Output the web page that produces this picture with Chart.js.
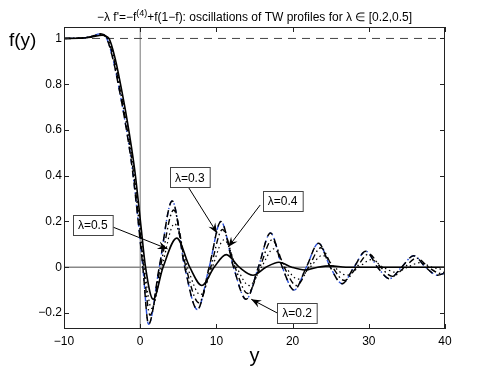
<!DOCTYPE html>
<html>
<head>
<meta charset="utf-8">
<script src="https://cdn.jsdelivr.net/npm/chart.js@4"></script>
<style>
  html, body { margin: 0; padding: 0; background: #fff; }
  #wrap { width: 493px; height: 370px; }
</style>
</head>
<body>
<div id="wrap"><canvas id="grafico" width="493" height="370"></canvas></div>
<script>
// profili (estremi e passaggi per zero)
const x02 = [-10, -8, -6.5, -5.3, -4.4, -3.5, -3, -2, -1, -0.2, 0.35, 1.1, 2.5, 4.2, 5.85, 7.5, 9.05, 10.6, 12.25, 13.9, 15.5, 17.1, 18.65, 20.2, 21.8, 23.4, 24.95, 26.5, 28.05, 29.6, 31.15, 32.7, 34.3, 35.9, 37.45, 39.0, 40];
const y02 = [1.0, 1.001, 1.008, 1.02, 1.0, 0.9, 0.82, 0.64, 0.42, 0.18, 0, -0.25, 0, 0.29, 0, -0.185, 0, 0.2, 0, -0.14, 0, 0.15, 0, -0.10, 0, 0.105, 0, -0.072, 0, 0.07, 0, -0.05, 0, 0.05, 0, -0.035, -0.025];

const x03 = [-10, -8, -6.5, -5.2, -4.3, -3.4, -2.9, -1.9, -0.9, -0.1, 0.45, 1.3, 2.65, 4.4, 6.0, 7.7, 9.25, 10.8, 12.45, 14.1, 15.7, 17.3, 18.9, 20.5, 22.1, 23.7, 25.25, 26.8, 28.4, 30.0, 31.55, 33.1, 34.7, 36.3, 37.85, 39.4, 40];
const y03 = [1.0, 1.001, 1.007, 1.018, 1.0, 0.9, 0.82, 0.64, 0.42, 0.18, 0, -0.21, 0, 0.25, 0, -0.155, 0, 0.165, 0, -0.115, 0, 0.12, 0, -0.08, 0, 0.085, 0, -0.058, 0, 0.058, 0, -0.04, 0, 0.04, 0, -0.027, -0.02];

const x04 = [-10, -8, -6.5, -5.1, -4.2, -3.3, -2.8, -1.8, -0.8, 0, 0.55, 1.5, 2.85, 4.5, 6.2, 7.9, 9.45, 11.0, 12.65, 14.3, 15.9, 17.5, 19.1, 20.7, 22.3, 23.9, 25.5, 27.1, 28.7, 30.3, 31.9, 33.5, 35.1, 36.7, 38.3, 40];
const y04 = [1.0, 1.001, 1.006, 1.016, 1.0, 0.9, 0.82, 0.64, 0.42, 0.18, 0, -0.18, 0, 0.19, 0, -0.12, 0, 0.12, 0, -0.08, 0, 0.08, 0, -0.052, 0, 0.052, 0, -0.035, 0, 0.033, 0, -0.022, 0, 0.02, 0, -0.012];

const x05 = [-10, -8, -6.5, -5.0, -4.1, -3.2, -2.7, -1.7, -0.7, 0.1, 0.7, 1.7, 3.0, 4.8, 6.5, 8.1, 9.7, 11.3, 13.0, 14.8, 16.5, 18.2, 19.9, 21.6, 23.3, 25, 27, 30, 35, 40];
const y05 = [1.0, 1.001, 1.005, 1.014, 1.0, 0.9, 0.82, 0.64, 0.42, 0.18, 0, -0.14, 0, 0.127, 0, -0.08, 0, 0.055, 0, -0.035, 0, 0.022, 0, -0.012, 0, 0.006, 0, 0, 0, 0];

const xTicks = [-10, 0, 10, 20, 30, 40];
const yTicks = [-0.2, 0, 0.2, 0.4, 0.6, 0.8, 1];

const FONT = '"Liberation Sans", Arial, Helvetica, sans-serif';

function punti(xs, ys) {
    return xs.map((x, i) => ({ x: x, y: ys[i] }));
}

function meno(v) {
    return v < 0 ? '\u2212' + Math.abs(v) : String(v);
}

// etichette con freccia (coordinate nei dati)
const etichette = [
    { text: 'λ=0.5', cx: -6.23, cy: 0.184, sx: -3.54, sy: 0.175, tx: 3.6, ty: 0.08 },
    { text: 'λ=0.3', cx: 6.5, cy: 0.393, sx: 6.3, sy: 0.351, tx: 10.1, ty: 0.149 },
    { text: 'λ=0.4', cx: 18.7, cy: 0.29, sx: 15.75, sy: 0.272, tx: 11.55, ty: 0.088 },
    { text: 'λ=0.2', cx: 20.6, cy: -0.2, sx: 18.1, sy: -0.202, tx: 14.57, ty: -0.14 }
];

function freccia(ctx, x1, y1, x2, y2) {
    ctx.beginPath();
    ctx.moveTo(x1, y1);
    ctx.lineTo(x2, y2);
    ctx.stroke();
    let a = Math.atan2(y2 - y1, x2 - x1);
    let L = 10, W = 4;
    let bx = x2 - L * Math.cos(a), by = y2 - L * Math.sin(a);
    let ix = x2 - 0.65 * L * Math.cos(a), iy = y2 - 0.65 * L * Math.sin(a);
    ctx.beginPath();
    ctx.moveTo(x2, y2);
    ctx.lineTo(bx + W * Math.sin(a), by - W * Math.cos(a));
    ctx.lineTo(ix, iy);
    ctx.lineTo(bx - W * Math.sin(a), by + W * Math.cos(a));
    ctx.closePath();
    ctx.fill();
}

const decorazioni = {
    id: 'decorazioni',
    afterDatasetsDraw(chart) {
        let ctx = chart.ctx;
        let a = chart.chartArea;
        let xs = chart.scales.x, ys = chart.scales.y;
        ctx.save();

        // cornice e tacche interne
        ctx.strokeStyle = '#222';
        ctx.lineWidth = 1;
        ctx.strokeRect(a.left + 0.5, a.top + 0.5, a.right - a.left - 1, a.bottom - a.top - 1);
        ctx.beginPath();
        xTicks.forEach(v => {
            let p = Math.round(xs.getPixelForValue(v)) + 0.5;
            ctx.moveTo(p, a.bottom); ctx.lineTo(p, a.bottom - 5);
            ctx.moveTo(p, a.top); ctx.lineTo(p, a.top + 5);
        });
        yTicks.forEach(v => {
            let p = Math.round(ys.getPixelForValue(v)) + 0.5;
            ctx.moveTo(a.left, p); ctx.lineTo(a.left + 5, p);
            ctx.moveTo(a.right, p); ctx.lineTo(a.right - 5, p);
        });
        ctx.stroke();

        // frecce e riquadri
        ctx.font = '12px ' + FONT;
        ctx.strokeStyle = '#000';
        ctx.fillStyle = '#000';
        etichette.forEach(e => {
            freccia(ctx, xs.getPixelForValue(e.sx), ys.getPixelForValue(e.sy),
                xs.getPixelForValue(e.tx), ys.getPixelForValue(e.ty));
        });
        etichette.forEach(e => {
            let cx = xs.getPixelForValue(e.cx), cy = ys.getPixelForValue(e.cy);
            let w = ctx.measureText(e.text).width + 10, h = 20;
            let x0 = Math.round(cx - w / 2) + 0.5, y0 = Math.round(cy - h / 2) + 0.5;
            ctx.fillStyle = '#fff';
            ctx.fillRect(x0, y0, w, h);
            ctx.strokeStyle = '#444';
            ctx.strokeRect(x0, y0, w, h);
            ctx.fillStyle = '#000';
            ctx.textAlign = 'center';
            ctx.textBaseline = 'middle';
            ctx.fillText(e.text, cx, cy + 1);
        });

        // titolo con esponente
        let parti = [
            { t: '\u2212λ f\'=\u2212f', sup: false },
            { t: '(4)', sup: true },
            { t: '+f(1\u2212f): oscillations of TW profiles for λ \u2208 [0.2,0.5]', sup: false }
        ];
        let larg = 0;
        parti.forEach(p => {
            ctx.font = (p.sup ? '9px ' : '12px ') + FONT;
            p.w = ctx.measureText(p.t).width;
            larg += p.w;
        });
        let x = (a.left + a.right) / 2 - larg / 2;
        ctx.textAlign = 'left';
        ctx.textBaseline = 'alphabetic';
        parti.forEach(p => {
            ctx.font = (p.sup ? '9px ' : '12px ') + FONT;
            ctx.fillText(p.t, x, p.sup ? 16 : 21);
            x += p.w;
        });

        // nomi degli assi
        ctx.font = '19px ' + FONT;
        ctx.fillText('f(y)', 9, 46);
        ctx.font = '20px ' + FONT;
        ctx.textAlign = 'center';
        ctx.fillText('y', (a.left + a.right) / 2, 362);
        ctx.restore();
    }
};

function serie(label, xs, ys, colore, tratteggio, spessore, offset) {
    return {
        label: label,
        data: punti(xs, ys),
        borderColor: colore,
        borderWidth: spessore,
        borderDash: tratteggio,
        borderDashOffset: offset || 0,
        pointRadius: 0,
        fill: false,
        cubicInterpolationMode: 'monotone'
    };
}

let chart = new Chart('grafico', {
    type: 'line',
    data: {
        datasets: [
            { label: 'y=1', data: [{ x: -10, y: 1 }, { x: 40, y: 1 }], borderColor: '#444', borderWidth: 1, borderDash: [8, 6], pointRadius: 0, order: 10 },
            { label: 'y=0', data: [{ x: -10, y: 0 }, { x: 40, y: 0 }], borderColor: '#888', borderWidth: 1.5, pointRadius: 0, order: 10 },
            { label: 'x=0', data: [{ x: 0, y: -0.27 }, { x: 0, y: 1.05 }], borderColor: '#777', borderWidth: 1, pointRadius: 0, order: 10 },
            serie('λ=0.5', x05, y05, '#000', [], 1.6),
            serie('λ=0.4', x04, y04, '#000', [1.5, 3], 1.2),
            serie('λ=0.3', x03, y03, '#000', [6, 3, 1.5, 3], 1.4),
            serie('λ=0.2', x02, y02, '#000', [7, 5], 1.5),
            serie('λ=0.2 ', x02, y02, '#2a4fd6', [5, 3, 1.5, 3], 1.4, 6)
        ]
    },
    options: {
        responsive: false,
        animation: false,
        layout: { padding: { left: 0, right: 48, top: 27, bottom: 0 } },
        plugins: {
            legend: { display: false },
            tooltip: { enabled: false },
            title: { display: false }
        },
        scales: {
            x: {
                type: 'linear',
                min: -10,
                max: 40,
                afterBuildTicks: s => { s.ticks = xTicks.map(v => ({ value: v })); },
                afterFit: s => { s.height = 41; },
                grid: { display: false, drawTicks: false },
                border: { display: false },
                ticks: {
                    callback: v => meno(v),
                    color: '#000',
                    padding: 5,
                    maxRotation: 0,
                    font: { family: FONT, size: 12 }
                }
            },
            y: {
                type: 'linear',
                min: -0.27,
                max: 1.05,
                afterBuildTicks: s => { s.ticks = yTicks.map(v => ({ value: v })); },
                afterFit: s => { s.width = 64; },
                grid: { display: false, drawTicks: false },
                border: { display: false },
                ticks: {
                    callback: v => meno(v),
                    color: '#000',
                    padding: 2,
                    autoSkip: false,
                    font: { family: FONT, size: 12 }
                }
            }
        }
    },
    plugins: [decorazioni]
});
</script>
</body>
</html>
